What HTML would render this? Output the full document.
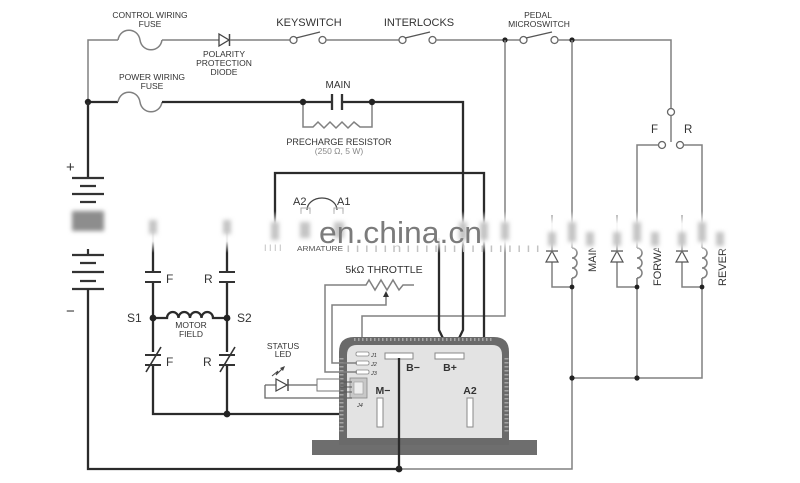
<!DOCTYPE html>
<html><head><meta charset="utf-8"><style>
html,body{margin:0;padding:0;background:#fff;}
svg{display:block;}
text{font-family:"Liberation Sans",Arial,sans-serif;fill:#333;}
.g{stroke:#808080;stroke-width:1.5;fill:none;}
.k{stroke:#2b2b2b;stroke-width:2.3;fill:none;}
.c{fill:#fff;stroke:#666;stroke-width:1.3;}
.d{fill:#222;}
.s{font-size:8.5px;}
.b{font-weight:bold;font-size:10.5px;}
</style></head><body>
<svg width="800" height="483" viewBox="0 0 800 483" xmlns="http://www.w3.org/2000/svg">
<defs>
<linearGradient id="band" x1="0" y1="0" x2="0" y2="1">
<stop offset="0" stop-color="#fff" stop-opacity="0"/>
<stop offset="0.3" stop-color="#fff" stop-opacity="0.93"/>
<stop offset="0.72" stop-color="#fff" stop-opacity="0.93"/>
<stop offset="1" stop-color="#fff" stop-opacity="0"/>
</linearGradient>
<filter id="bl" x="-50%" y="-50%" width="200%" height="200%"><feGaussianBlur stdDeviation="2"/></filter>
<clipPath id="lc"><rect x="540" y="248" width="220" height="60"/></clipPath>
</defs>

<!-- ===== CONTROL LINE ===== -->
<path class="g" d="M88,102 V40 H118"/>
<path class="g" d="M118,40 C120,27 138,27 140,40 C142,53 160,53 162,40"/>
<path class="g" d="M162,40 H219"/>
<polygon points="219,34 219,46 229,40" fill="#fff" stroke="#444" stroke-width="1.3"/>
<line x1="229.5" y1="34" x2="229.5" y2="46" stroke="#444" stroke-width="1.5"/>
<path class="g" d="M230,40 H290"/>
<circle class="c" cx="293.5" cy="40" r="3.5"/><circle class="c" cx="322.5" cy="40" r="3.5"/>
<line x1="296" y1="38" x2="320" y2="32" stroke="#555" stroke-width="1.3"/>
<path class="g" d="M326,40 H399"/>
<circle class="c" cx="402.5" cy="40" r="3.5"/><circle class="c" cx="432.5" cy="40" r="3.5"/>
<line x1="405" y1="38" x2="430" y2="32" stroke="#555" stroke-width="1.3"/>
<path class="g" d="M436,40 H520"/>
<circle class="c" cx="523.5" cy="40" r="3.5"/><circle class="c" cx="554.5" cy="40" r="3.5"/>
<line x1="526" y1="38" x2="552" y2="32" stroke="#555" stroke-width="1.3"/>
<path class="g" d="M558,40 H671 V108.5"/>
<circle class="c" cx="671" cy="112" r="3.5"/>
<line x1="671" y1="115.5" x2="671" y2="142" stroke="#808080" stroke-width="1.5"/>
<circle class="c" cx="662" cy="145" r="3.5"/><circle class="c" cx="680" cy="145" r="3.5"/>
<path class="g" d="M658.5,145 H637 V248"/>
<path class="g" d="M683.5,145 H702 V248"/>
<circle class="d" cx="505" cy="40" r="2.6"/><circle class="d" cx="572" cy="40" r="2.6"/>

<!-- pedal line to J1 -->
<path class="g" d="M505,40 V316 H362 V352"/>
<!-- main coil line & bottom -->
<path class="g" d="M572,40 V248"/>
<path class="g" d="M572,278 V469 H399"/>
<path class="g" d="M637,278 V378"/>
<path class="g" d="M702,278 V378 H572"/>
<circle class="d" cx="572" cy="378" r="2.6"/><circle class="d" cx="637" cy="378" r="2.6"/>

<!-- coils and diodes -->
<g>
<path class="g" d="M572,248 a5,5 0 0 1 0,10 a5,5 0 0 1 0,10 a5,5 0 0 1 0,10"/>
<path class="g" d="M637,248 a5,5 0 0 1 0,10 a5,5 0 0 1 0,10 a5,5 0 0 1 0,10"/>
<path class="g" d="M702,248 a5,5 0 0 1 0,10 a5,5 0 0 1 0,10 a5,5 0 0 1 0,10"/>
<path class="g" d="M552,215 V251 M552,262 V287 H572"/>
<path class="g" d="M617,215 V251 M617,262 V287 H637"/>
<path class="g" d="M682,215 V251 M682,262 V287 H702"/>
<polygon points="546,262 558,262 552,251" fill="#fff" stroke="#555" stroke-width="1.2"/>
<polygon points="611,262 623,262 617,251" fill="#fff" stroke="#555" stroke-width="1.2"/>
<polygon points="676,262 688,262 682,251" fill="#fff" stroke="#555" stroke-width="1.2"/>
<path d="M546,251 H558 M611,251 H623 M676,251 H688" stroke="#555" stroke-width="1.4"/>
<path class="g" d="M572,278 V287 M637,278 V287 M702,278 V287"/>
<circle class="d" cx="572" cy="287" r="2.4"/><circle class="d" cx="637" cy="287" r="2.4"/><circle class="d" cx="702" cy="287" r="2.4"/>
<g clip-path="url(#lc)">
<text x="0" y="0" font-size="11" transform="translate(596,272) rotate(-90)">MAIN</text>
<text x="0" y="0" font-size="11" transform="translate(661,286) rotate(-90)">FORWARD</text>
<text x="0" y="0" font-size="11" transform="translate(726,286) rotate(-90)">REVERSE</text>
</g>
</g>

<!-- ===== POWER LINE ===== -->
<path class="k" d="M88,102 H118"/>
<path class="g" d="M118,102 C120,89 138,89 140,102 C142,115 160,115 162,102"/>
<path class="k" d="M162,102 H331"/>
<path d="M332,94 V110 M342,94 V110" stroke="#333" stroke-width="2.3"/>
<path class="k" d="M343,102 H463 V330 L451,355 L439,330 V238"/>
<path class="g" d="M303,102 V127 H313 L318,122 L324,128 L330,122 L336,128 L342,122 L348,128 L354,122 L360,127 H372 V102"/>
<circle class="d" cx="88" cy="102" r="3.2"/><circle class="d" cx="303" cy="102" r="3.2"/><circle class="d" cx="372" cy="102" r="3.2"/>

<!-- battery -->
<path class="k" d="M88,102 V178"/>
<path d="M72,178 H104 M80,186 H96 M72,194 H104 M80,202 H96" stroke="#333" stroke-width="2.2"/>
<rect x="72" y="211" width="32" height="20" fill="#8d8d8d" filter="url(#bl)"/>
<path d="M88,249 V255 M72,255 H104 M80,263 H96 M72,272 H104 M80,281 H96 M72,289 H104" stroke="#333" stroke-width="2.2"/>
<path class="k" d="M88,289 V469 H399"/>
<circle class="d" cx="399" cy="469" r="3.4"/>

<!-- armature rectangle -->
<path class="k" d="M275,225 V173 H484 V414 H472"/>
<path d="M307,210 A15,12 0 0 1 337,210" fill="none" stroke="#444" stroke-width="1.2"/>
<path d="M301,214 V208 H310 V214 M334,214 V208 H343 V214" fill="none" stroke="#aaa" stroke-width="1"/>
<text x="293" y="205" font-size="11">A2</text>
<text x="337" y="205" font-size="11">A1</text>

<!-- motor field circuit -->
<path class="k" d="M153,232 V272 M153,282 V352 M153,366 V414 H377"/>
<path class="k" d="M227,232 V272 M227,282 V352 M227,366 V414"/>
<path d="M145,272 H161 M145,282 H161 M219,272 H235 M219,282 H235" stroke="#333" stroke-width="2"/>
<path d="M145,355 H161 M145,365 H161 M219,355 H235 M219,365 H235" stroke="#333" stroke-width="2"/>
<path d="M146,372 L161,347 M220,372 L235,347" stroke="#333" stroke-width="1.6"/>
<path class="k" d="M153,318 H167 a5.75,6 0 0 1 11.5,0 a5.75,6 0 0 1 11.5,0 a5.75,6 0 0 1 11.5,0 a5.75,6 0 0 1 11.5,0 H227" stroke-width="1.6"/>
<circle class="d" cx="153" cy="318" r="3.4"/><circle class="d" cx="227" cy="318" r="3.4"/><circle class="d" cx="227" cy="414" r="3.4"/>

<!-- ===== CONTROLLER ===== -->
<rect x="312" y="440" width="225" height="15" fill="#6e6e6e"/>
<path d="M339,445 V352 Q339,337 354,337 H494 Q509,337 509,352 V445 Z" fill="#6a6a6a"/>
<line x1="354" y1="339.5" x2="494" y2="339.5" stroke="#a5a5a5" stroke-width="3" stroke-dasharray="1.5 2.5"/>
<line x1="341.5" y1="358" x2="341.5" y2="432" stroke="#a5a5a5" stroke-width="4" stroke-dasharray="1.5 2.5"/>
<line x1="506.5" y1="358" x2="506.5" y2="432" stroke="#a5a5a5" stroke-width="4" stroke-dasharray="1.5 2.5"/>
<path d="M347,438 V355 Q347,345 357,345 H492 Q502,345 502,355 V438 Z" fill="#e3e3e3"/>
<rect x="385" y="353" width="28" height="6" fill="#fff" stroke="#888" stroke-width="1"/>
<rect x="435" y="353" width="29" height="6" fill="#fff" stroke="#888" stroke-width="1"/>
<rect x="377" y="398" width="6" height="29" fill="#fff" stroke="#888" stroke-width="1"/>
<rect x="467" y="398" width="6" height="29" fill="#fff" stroke="#888" stroke-width="1"/>
<text class="b" x="413" y="371" text-anchor="middle">B−</text>
<text class="b" x="450" y="371" text-anchor="middle">B+</text>
<text class="b" x="383" y="394" text-anchor="middle">M−</text>
<text class="b" x="470" y="394" text-anchor="middle">A2</text>
<!-- J pins -->
<rect x="356" y="352" width="13" height="4" rx="1.5" fill="#fff" stroke="#888" stroke-width="0.8"/>
<rect x="356" y="361" width="13" height="4" rx="1.5" fill="#fff" stroke="#888" stroke-width="0.8"/>
<rect x="356" y="370" width="13" height="4" rx="1.5" fill="#fff" stroke="#888" stroke-width="0.8"/>
<text x="371" y="357" font-size="5.5" font-style="italic">J1</text>
<text x="371" y="366" font-size="5.5" font-style="italic">J2</text>
<text x="371" y="375" font-size="5.5" font-style="italic">J3</text>
<rect x="350" y="378" width="17" height="20" fill="#c8c8c8" stroke="#888" stroke-width="0.8"/>
<rect x="354" y="382" width="9" height="12" fill="#eee" stroke="#999" stroke-width="0.6"/>
<text x="357" y="407" font-size="5.5" font-style="italic">J4</text>
<!-- B- wire -->
<path class="k" d="M399,358 V469"/>

<!-- throttle -->
<text x="384" y="273" font-size="10.5" text-anchor="middle">5kΩ THROTTLE</text>
<path class="g" d="M357,372 H325 V285 H366 L369,280 L375,290 L381,280 L387,290 L393,280 L399,290 L403,285 H414" stroke="#666" stroke-width="1.3"/>
<polygon points="386,291 383,297 389,297" fill="#333"/>
<path class="g" d="M386,297 V305 H332 V363 H357" stroke="#666" stroke-width="1.3"/>

<!-- status LED -->
<text class="s" x="283" y="349" text-anchor="middle">STATUS</text>
<text class="s" x="283" y="357" text-anchor="middle">LED</text>
<path d="M272,376 L278,371 L276,375 L283,368" fill="none" stroke="#444" stroke-width="1"/>
<polygon points="285,366 280,368 283,371" fill="#444"/>
<path d="M265,385 H276 M288,385 H317 M265,385 V398 H352" fill="none" stroke="#666" stroke-width="1.3"/>
<polygon points="276,379 276,391 287,385" fill="#fff" stroke="#444" stroke-width="1.2"/>
<line x1="288" y1="379" x2="288" y2="391" stroke="#444" stroke-width="1.4"/>
<rect x="317" y="379" width="23" height="12" fill="none" stroke="#777" stroke-width="1"/>
<path d="M340,382 H352 M340,387 H352 M340,392 H352" stroke="#555" stroke-width="1"/>

<!-- ===== LABELS ===== -->
<text class="s" x="150" y="18" text-anchor="middle">CONTROL WIRING</text>
<text class="s" x="150" y="27" text-anchor="middle">FUSE</text>
<text class="s" x="224" y="57" text-anchor="middle">POLARITY</text>
<text class="s" x="224" y="66" text-anchor="middle">PROTECTION</text>
<text class="s" x="224" y="75" text-anchor="middle">DIODE</text>
<text x="309" y="26" font-size="11" text-anchor="middle">KEYSWITCH</text>
<text x="419" y="26" font-size="11" text-anchor="middle">INTERLOCKS</text>
<text class="s" x="538" y="18" text-anchor="middle">PEDAL</text>
<text class="s" x="539" y="27" text-anchor="middle">MICROSWITCH</text>
<text class="s" x="152" y="80" text-anchor="middle">POWER WIRING</text>
<text class="s" x="152" y="89" text-anchor="middle">FUSE</text>
<text x="338" y="88" font-size="10" text-anchor="middle">MAIN</text>
<text x="339" y="145" font-size="9" text-anchor="middle">PRECHARGE RESISTOR</text>
<text x="339" y="154" font-size="8.5" text-anchor="middle" style="fill:#888">(250 Ω, 5 W)</text>
<text x="651" y="133" font-size="11.5">F</text>
<text x="684" y="133" font-size="11.5">R</text>
<text x="66" y="172" font-size="15">+</text>
<text x="66" y="316" font-size="15">−</text>
<text x="127" y="322" font-size="12">S1</text>
<text x="237" y="322" font-size="12">S2</text>
<text class="s" x="191" y="328" text-anchor="middle">MOTOR</text>
<text class="s" x="191" y="337" text-anchor="middle">FIELD</text>
<text x="166" y="283" font-size="12">F</text>
<text x="204" y="283" font-size="12">R</text>
<text x="166" y="366" font-size="12">F</text>
<text x="203" y="366" font-size="12">R</text>

<!-- ===== WATERMARK BAND ===== -->
<rect x="110" y="211" width="635" height="42" fill="url(#band)"/>
<g filter="url(#bl)" fill="#c4c4c4">
<rect x="149" y="220" width="8" height="14"/><rect x="223" y="220" width="8" height="14"/>
<rect x="271" y="222" width="8" height="18"/><rect x="300" y="222" width="10" height="16"/><rect x="334" y="222" width="10" height="16"/>
<rect x="459" y="222" width="8" height="18"/><rect x="480" y="222" width="8" height="18"/><rect x="501" y="222" width="8" height="18"/>
<rect x="548" y="232" width="8" height="14"/><rect x="568" y="222" width="8" height="20"/><rect x="586" y="232" width="8" height="14"/>
<rect x="613" y="232" width="8" height="14"/><rect x="633" y="222" width="8" height="20"/><rect x="651" y="232" width="8" height="14"/>
<rect x="678" y="232" width="8" height="14"/><rect x="698" y="222" width="8" height="20"/><rect x="716" y="232" width="8" height="14"/>
</g>
<text x="319" y="243" font-size="31" textLength="163" lengthAdjust="spacingAndGlyphs" style="fill:#7b7b7b">en.china.cn</text>
<text x="264" y="251" font-size="9" style="fill:#bbb">I I I I</text>
<text x="297" y="251" font-size="7" textLength="46" lengthAdjust="spacingAndGlyphs" style="fill:#555">ARMATURE</text>
<text x="346" y="252" font-size="12" textLength="194" lengthAdjust="spacingAndGlyphs" style="fill:#c2c2c2">ı ı ı ı ı n  ı ı ı ı ı ı ı ı ı ı ı ı ı ı ı</text>
</svg>
</body></html>
